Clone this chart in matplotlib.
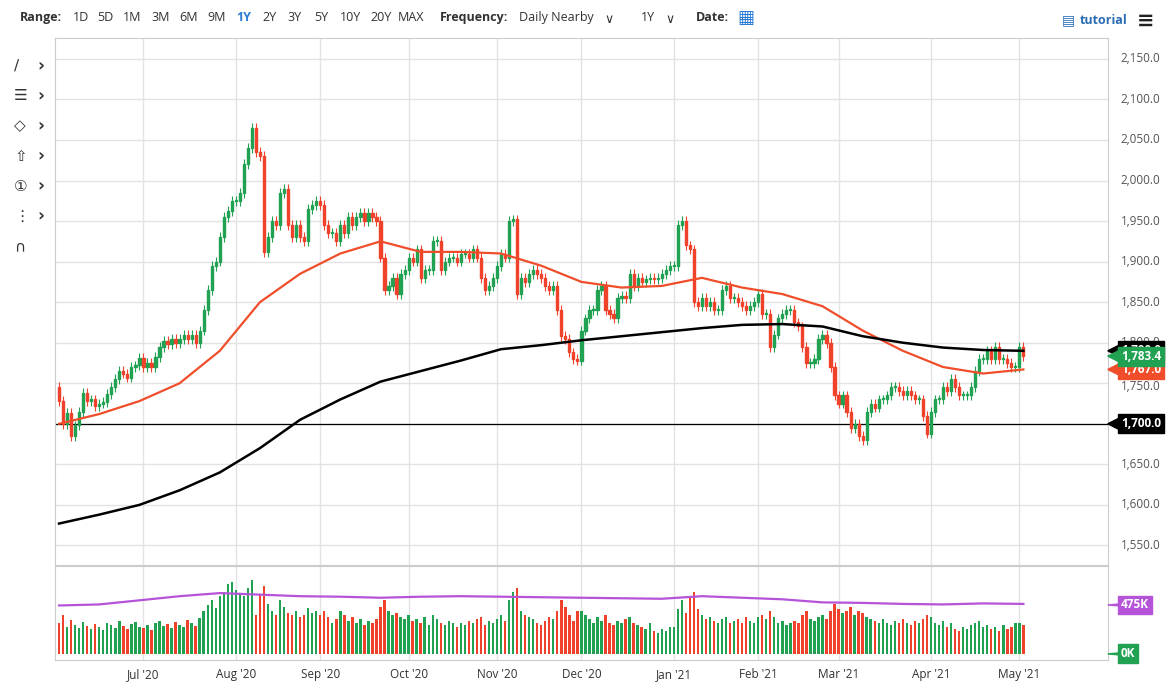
import numpy as np
import pandas as pd
import matplotlib
matplotlib.use("Agg")
import matplotlib.pyplot as plt
from matplotlib.patches import Rectangle, Polygon

# ---- data (daily closes, Jun 2 2020 .. May 4 2021) ----
closes = [
    # Jun
    1728, 1700, 1713, 1685, 1698, 1715, 1738, 1728, 1730, 1722, 1725, 1727, 1737, 1745, 1755, 1765, 1762, 1757, 1770, 1772, 1781,
    # Jul
    1770, 1775, 1770, 1782, 1795, 1802, 1798, 1805, 1800, 1805, 1810, 1805, 1810, 1800, 1815, 1840, 1865, 1895, 1900, 1930, 1955, 1962, 1975,
    # Aug
    1975, 1985, 2020, 2040, 2065, 2035, 2030, 1912, 1930, 1950, 1945, 1985, 1990, 1945, 1930, 1945, 1930, 1925, 1965, 1970, 1975,
    # Sep
    1970, 1945, 1935, 1935, 1925, 1945, 1935, 1955, 1945, 1955, 1960, 1950, 1960, 1955, 1950, 1905, 1865, 1870, 1880, 1860, 1885, 1890,
    # Oct
    1905, 1900, 1915, 1880, 1890, 1890, 1925, 1925, 1890, 1900, 1905, 1905, 1900, 1910, 1910, 1905, 1915, 1905, 1880, 1865, 1870, 1880,
    # Nov
    1895, 1910, 1905, 1950, 1952, 1860, 1880, 1875, 1885, 1890, 1885, 1880, 1870, 1865, 1870, 1840, 1808, 1805, 1788, 1780, 1778,
    # Dec
    1815, 1830, 1840, 1840, 1865, 1870, 1840, 1835, 1830, 1855, 1858, 1855, 1885, 1870, 1880, 1875, 1878, 1880, 1878, 1880, 1885, 1890, 1895,
    # Jan
    1895, 1945, 1950, 1920, 1915, 1850, 1845, 1855, 1845, 1850, 1840, 1840, 1865, 1870, 1855, 1855, 1850, 1845, 1840, 1845, 1850,
    # Feb
    1860, 1835, 1835, 1795, 1810, 1830, 1835, 1840, 1840, 1825, 1820, 1795, 1775, 1775, 1780, 1805, 1810, 1800, 1770, 1735,
    # Mar
    1725, 1735, 1715, 1695, 1700, 1685, 1680, 1715, 1725, 1720, 1730, 1730, 1735, 1745, 1745, 1740, 1735, 1740, 1735, 1730, 1730, 1710, 1688,
    # Apr
    1715, 1730, 1730, 1745, 1740, 1755, 1745, 1735, 1735, 1735, 1745, 1765, 1780, 1780, 1790, 1780, 1795, 1780, 1780, 1775, 1770, 1770,
    # May
    1795, 1783.4,
]
first_open = 1745

volume_k = [
    # Jun
    300, 380, 260, 330, 280, 250, 310, 270, 240, 290, 260, 230, 300, 280, 250, 320, 270, 240, 290, 310, 260,
    # Jul
    250, 280, 230, 300, 320, 270, 290, 250, 310, 280, 260, 330, 300, 270, 350, 420, 470, 520, 450, 560, 600, 680, 700,
    # Aug
    620, 580, 560, 640, 720, 380, 580, 660, 480, 420, 380, 520, 460, 400, 380, 420, 360, 380, 450, 400, 420,
    # Sep
    380, 420, 360, 300, 340, 420, 380, 320, 360, 300, 340, 280, 320, 300, 340, 460, 520, 420, 380, 400, 360, 340,
    # Oct
    380, 320, 340, 300, 360, 280, 380, 340, 300, 280, 320, 300, 260, 300, 280, 320, 300, 340, 360, 280, 320, 300,
    # Nov
    340, 380, 320, 520, 600, 640, 420, 380, 360, 340, 300, 280, 320, 360, 340, 420, 520, 460, 380, 320, 420,
    # Dec
    420, 380, 340, 300, 360, 320, 380, 300, 280, 320, 300, 340, 360, 300, 280, 260, 240, 300, 220, 200, 240, 220, 260,
    # Jan
    260, 440, 520, 400, 560, 600, 440, 380, 340, 360, 320, 300, 340, 360, 300, 320, 340, 300, 360, 320, 300,
    # Feb
    360, 380, 340, 420, 360, 300, 320, 280, 300, 320, 300, 380, 420, 340, 320, 360, 380, 340, 420, 480,
    # Mar
    440, 400, 420, 460, 380, 420, 400, 360, 340, 320, 300, 340, 300, 280, 320, 300, 340, 300, 280, 320, 300, 340, 380,
    # Apr
    360, 300, 280, 320, 260, 300, 240, 220, 260, 240, 280, 300, 320, 260, 280, 240, 260, 220, 280, 240, 260, 300,
    # May
    300, 280,
]

ma_step = 10
ma50 = [1700, 1712, 1728, 1750, 1790, 1850, 1885, 1910, 1925, 1912, 1912, 1910, 1895,
        1875, 1868, 1870, 1880, 1868, 1860, 1845, 1815, 1790, 1770, 1762, 1767]
ma200 = [1577, 1588, 1600, 1618, 1640, 1670, 1705, 1730, 1752, 1765, 1778, 1792, 1797,
         1803, 1808, 1813, 1818, 1822, 1823, 1820, 1808, 1800, 1794, 1791, 1790]
vol_avg_k = [470, 480, 520, 560, 590, 575, 560, 555, 545, 555, 560, 555, 550, 545,
             540, 535, 560, 545, 530, 500, 495, 485, 480, 490, 485]

month_labels = ["Jul '20", "Aug '20", "Sep '20", "Oct '20", "Nov '20", "Dec '20",
                "Jan '21", "Feb '21", "Mar '21", "Apr '21", "May '21"]

dates = pd.bdate_range("2020-06-02", "2021-05-04")[:len(closes)]
n = len(closes)
idx = np.arange(n)
opens = [first_open] + closes[:-1]

UP = "#21a152"
DN = "#f0412a"
MA_RED = "#f04e2a"
PURPLE = "#b554d8"
GRID = "#e3e3e3"

plt.rcParams["font.family"] = "Open Sans"
fig = plt.figure(figsize=(11.71, 7.0), dpi=100)
ax = fig.add_axes([0.047, 0.193, 0.899, 0.753])
axv = fig.add_axes([0.047, 0.057, 0.899, 0.134], sharex=ax)

xmax = n + 20
for a in (ax, axv):
    a.set_xlim(-1, xmax)
    for s in a.spines.values():
        s.set_color("#cccccc")
    a.tick_params(length=0)

# month grid
month_pos = []
for m in range(1, len(month_labels) + 1):
    start = pd.Timestamp(2020, 6, 1) + pd.DateOffset(months=m)
    month_pos.append(int(np.searchsorted(dates, start)))
for p in month_pos:
    ax.axvline(p, color=GRID, lw=1, zorder=0)
    axv.axvline(p, color=GRID, lw=1, zorder=0)

ax.set_ylim(1526, 2176)
yt = np.arange(1550, 2151, 50)
for y in yt:
    ax.axhline(y, color=GRID, lw=1, zorder=0)
ax.set_yticks([])
axv.set_yticks([])
ax.set_xticks([])
axv.set_xticks(month_pos)
axv.set_xticklabels(month_labels, fontsize=8.5, color="#333333")
axv.tick_params(axis="x", pad=6)

# candles
w = 0.55
for i in idx:
    o, c = opens[i], closes[i]
    col = UP if c >= o else DN
    lo, hi = min(o, c), max(o, c)
    ax.vlines(i, lo - 6, hi + 6, color=col, lw=0.8, zorder=3)
    ax.add_patch(Rectangle((i - w / 2, lo), w, max(hi - lo, 1.2), color=col, zorder=3))
    axv.bar(i, volume_k[i], width=0.6, color=col, zorder=2)

ma_x = np.arange(len(ma50)) * ma_step
ma_x[-1] = n - 1
ax.plot(ma_x, ma50, color=MA_RED, lw=1.6, zorder=4)
ax.plot(ma_x, ma200, color="black", lw=1.8, zorder=4)
ax.axhline(1700, color="black", lw=0.9, zorder=2)
axv.plot(ma_x, vol_avg_k, color=PURPLE, lw=1.6, zorder=3)
axv.set_ylim(-60, 850)

# right axis labels
for y in yt:
    if y in (1750, 1700):
        continue
    ax.text(1.012, y, f"{y:,.1f}", transform=ax.get_yaxis_transform(),
            va="center", ha="left", fontsize=8.5, color="#555555")
ax.text(1.012, 1746, "1,750.0", transform=ax.get_yaxis_transform(),
        va="center", ha="left", fontsize=8.5, color="#555555", zorder=1)


def tag(a, y, text, color):
    tr = a.get_yaxis_transform()
    h = (a.get_ylim()[1] - a.get_ylim()[0])
    a.text(1.0125, y, text, transform=tr, va="center", ha="left", fontsize=8.5,
           color="white", fontweight="bold", zorder=10,
           bbox=dict(boxstyle="square,pad=0.25", fc=color, ec=color))
    a.add_patch(Polygon([(1.0, y), (1.012, y + h * 0.012), (1.012, y - h * 0.012)],
                        closed=True, transform=tr, color=color, clip_on=False, zorder=10))


tag(ax, ma200[-1], f"{ma200[-1]:,.1f}", "black")
tag(ax, 1767.0, "1,767.0", MA_RED)
tag(ax, closes[-1], f"{closes[-1]:,.1f}", UP)
tag(ax, 1700, "1,700.0", "black")
tag(axv, 475, "475K", PURPLE)
tag(axv, 0, "0K", UP)

# toolbar
fig.text(0.017, 0.975, "Range:", fontsize=9, fontweight="bold", va="center", color="#333333")
xs = [0.062, 0.083, 0.105, 0.129, 0.153, 0.177, 0.202, 0.224, 0.245, 0.268, 0.290, 0.316, 0.340]
for lbl, x in zip(["1D", "5D", "1M", "3M", "6M", "9M", "1Y", "2Y", "3Y", "5Y", "10Y", "20Y", "MAX"], xs):
    fig.text(x, 0.975, lbl, fontsize=9, va="center",
             color="#2a7bd4" if lbl == "1Y" else "#333333",
             fontweight="bold" if lbl == "1Y" else "normal")
fig.text(0.376, 0.975, "Frequency:", fontsize=9, fontweight="bold", va="center", color="#333333")
fig.text(0.443, 0.975, "Daily Nearby", fontsize=9, va="center", color="#333333")
fig.text(0.516, 0.972, "\u2228", fontsize=9, va="center", color="#333333", family="DejaVu Sans")
fig.text(0.547, 0.975, "1Y", fontsize=9, va="center", color="#333333")
fig.text(0.568, 0.972, "\u2228", fontsize=9, va="center", color="#333333", family="DejaVu Sans")
fig.text(0.594, 0.975, "Date:", fontsize=9, fontweight="bold", va="center", color="#333333")
fig.text(0.630, 0.975, "\u25a6", fontsize=13, va="center", color="#2a7bd4", family="DejaVu Sans")
fig.text(0.907, 0.971, "\u25a4", fontsize=10, va="center", color="#2a6cb4", family="DejaVu Sans")
fig.text(0.922, 0.971, "tutorial", fontsize=9, fontweight="bold", va="center", color="#2a6cb4")
fig.text(0.971, 0.971, "\u2261", fontsize=15, fontweight="bold", va="center", color="#222222",
         family="DejaVu Sans")

# left drawing tools
tools = ["\u2215", "\u2630", "\u25c7", "\u21e7", "\u2460", "\u22ee", "\u2229"]
for k, t in enumerate(tools):
    yy = 0.906 - k * 0.043
    fig.text(0.012, yy, t, fontsize=11, va="center", color="#333333", family="DejaVu Sans")
    if k < 6:
        fig.text(0.032, yy, "\u203a", fontsize=12, va="center", color="#333333",
                 family="DejaVu Sans", fontweight="bold")

fig.savefig("out.png", dpi=100, facecolor="white")
